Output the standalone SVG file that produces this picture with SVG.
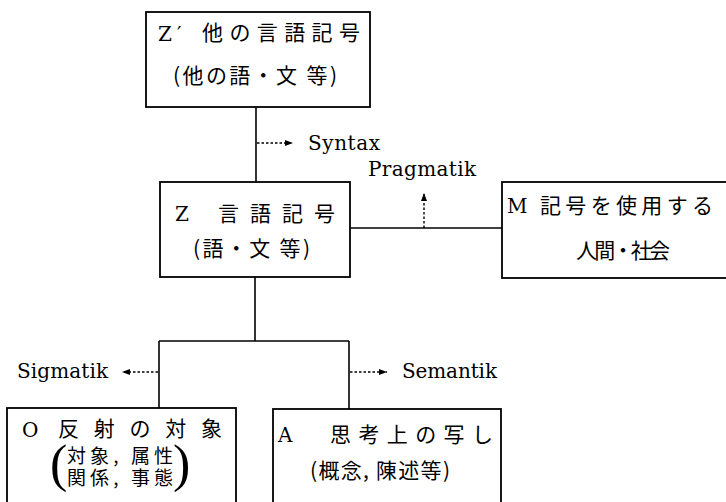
<svg xmlns="http://www.w3.org/2000/svg" width="726" height="502" viewBox="0 0 726 502">
<defs>
<style>
.box{fill:#fff;stroke:#000;stroke-width:1.8}
.ln{stroke:#000;stroke-width:1.6;fill:none}
.dot{stroke:#000;stroke-width:1.4;stroke-dasharray:2.5 2;fill:none}
.jp{font-family:"Noto Sans CJK JP",sans-serif;font-size:21px;fill:#000}
.jps{font-family:"Noto Sans CJK JP",sans-serif;font-size:19px;fill:#000}
.lat{font-family:"DejaVu Serif","Liberation Serif",serif;font-size:20px;fill:#000}
.par{font-family:"Liberation Serif",serif;font-size:52px;fill:#000}
</style>
<marker id="ah" markerUnits="userSpaceOnUse" markerWidth="8" markerHeight="6" refX="8" refY="3" orient="auto">
<path d="M0,0 L8,3 L0,6 z" fill="#000"/>
</marker>
</defs>
<rect width="726" height="502" fill="#fff"/>
<g id="connectors">
<line class="ln" x1="256" y1="107" x2="256" y2="182"/>
<line class="ln" x1="350" y1="228" x2="502" y2="228"/>
<line class="ln" x1="255" y1="277" x2="255" y2="341"/>
<line class="ln" x1="159" y1="341" x2="349" y2="341"/>
<line class="ln" x1="159" y1="341" x2="159" y2="408"/>
<line class="ln" x1="349" y1="341" x2="349" y2="409"/>
<line class="dot" x1="257" y1="143" x2="293" y2="143" marker-end="url(#ah)"/>
<line class="dot" x1="424" y1="228" x2="424" y2="193" marker-end="url(#ah)"/>
<line class="dot" x1="158" y1="372" x2="122" y2="372" marker-end="url(#ah)"/>
<line class="dot" x1="350" y1="372" x2="387" y2="372" marker-end="url(#ah)"/>
<text class="lat" x="308" y="150" textLength="72" lengthAdjust="spacing">Syntax</text>
<text class="lat" x="368" y="176" textLength="108" lengthAdjust="spacing">Pragmatik</text>
<text class="lat" x="17" y="378" textLength="91" lengthAdjust="spacing">Sigmatik</text>
<text class="lat" x="402" y="378" textLength="95" lengthAdjust="spacing">Semantik</text>
</g>
<g id="node-Zprime">
<rect class="box" x="146" y="12" width="224" height="95"/>
<text class="lat" x="158" y="41">Z</text>
<text class="lat" x="177" y="41">′</text>
<text class="jp" x="202" y="40" textLength="158" lengthAdjust="spacing">他の言語記号</text>
<text class="jp" x="173" y="83" textLength="164" lengthAdjust="spacing">(他の語・文 等)</text>
</g>
<g id="node-Z">
<rect class="box" x="160" y="182" width="190" height="95"/>
<text class="lat" x="175" y="221">Z</text>
<text class="jp" x="218" y="221" textLength="117" lengthAdjust="spacing">言語記号</text>
<text class="jp" x="193" y="256" textLength="117" lengthAdjust="spacing">(語・文 等)</text>
</g>
<g id="node-M">
<rect class="box" x="502" y="182" width="240" height="96"/>
<text class="lat" x="507" y="213">M</text>
<text class="jp" x="540" y="213" textLength="173" lengthAdjust="spacing">記号を使用する</text>
<text class="jp" x="576" y="258" textLength="94" lengthAdjust="spacing">人間・社会</text>
</g>
<g id="node-O">
<rect class="box" x="7" y="408" width="229" height="120"/>
<text><tspan class="lat" x="22" y="437">O</tspan><tspan class="jp" x="58" y="436" textLength="164" lengthAdjust="spacing">反射の対象</tspan><tspan class="par" x="50" y="481">(</tspan><tspan class="jps" x="67" y="463" textLength="106" lengthAdjust="spacing">対象, 属性</tspan><tspan class="jps" x="67" y="485" textLength="106" lengthAdjust="spacing">関係, 事態</tspan><tspan class="par" x="173" y="481">)</tspan></text>
</g>
<g id="node-A">
<rect class="box" x="273" y="409" width="228" height="120"/>
<text class="lat" x="278" y="442">A</text>
<text class="jp" x="330" y="442" textLength="163" lengthAdjust="spacing">思考上の写し</text>
<text class="jp" x="310" y="478" textLength="140" lengthAdjust="spacing">(概念, 陳述等)</text>
</g>
</svg>
